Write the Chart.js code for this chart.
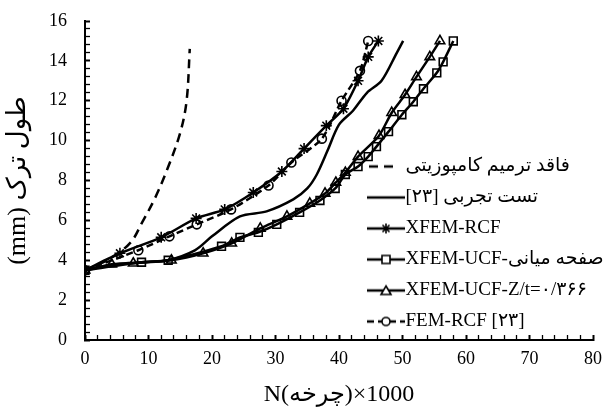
<!DOCTYPE html>
<html>
<head>
<meta charset="utf-8">
<script src="https://cdn.jsdelivr.net/npm/chart.js@4.4.1/dist/chart.umd.min.js"></script>
<style>
  html, body { margin: 0; padding: 0; background: #fff; }
  #wrap { width: 607px; height: 412px; position: relative; }
</style>
</head>
<body>
<div id="wrap"><canvas id="crackChart"></canvas></div>
<script>
// Crack length (mm) against cycles N x 1000
const noRepairN = [0, 4, 7.2, 9, 11, 13, 15, 16, 16.5];
const noRepairL = [3.5, 4.1, 4.9, 5.9, 7.1, 8.6, 10.4, 12.0, 14.6];

const testN = [0, 5, 9, 13, 17.3, 20, 24.4, 28.6, 32.8, 35, 36.5, 38.2, 40, 42.2, 44.4, 46.7, 49.1, 50.1];
const testL = [3.5, 3.8, 3.9, 4.0, 4.5, 5.2, 6.2, 6.45, 7.05, 7.6, 8.3, 9.5, 10.8, 11.5, 12.4, 13.0, 14.4, 15.0];

const xfemRcfN = [0, 5.5, 12, 17.5, 22, 26.5, 31, 34.5, 38, 40.7, 43, 44.6, 46.2];
const xfemRcfL = [3.5, 4.35, 5.15, 6.1, 6.55, 7.4, 8.45, 9.6, 10.75, 11.6, 13.0, 14.2, 15.0];

const ucfMidN = [0, 8.9, 13.1, 21.5, 24.4, 27.3, 30.2, 33.8, 37, 39.4, 41, 43, 44.6, 45.9, 47.8, 49.9, 51.7, 53.3, 55.4, 56.4, 58];
const ucfMidL = [3.5, 3.9, 4.0, 4.7, 5.15, 5.4, 5.8, 6.4, 7.0, 7.6, 8.3, 8.7, 9.2, 9.7, 10.45, 11.3, 11.95, 12.6, 13.4, 13.95, 15.0];

const ucfZtN = [0, 4.2, 7.6, 13.6, 18.6, 23.1, 27.6, 31.8, 35.4, 37.8, 39.5, 41, 43, 46.3, 48.3, 50.4, 52.2, 54.3, 55.9];
const ucfZtL = [3.5, 3.8, 3.85, 4.0, 4.35, 4.85, 5.6, 6.2, 6.85, 7.35, 7.9, 8.4, 9.2, 10.25, 11.4, 12.3, 13.2, 14.2, 15.0];

const femRcfN = [0, 8.4, 13.3, 17.6, 23, 28.9, 32.5, 37.3, 40.4, 43.3, 44.6];
const femRcfL = [3.5, 4.5, 5.2, 5.8, 6.55, 7.75, 8.9, 10.1, 12.0, 13.5, 15.0];

const seriesLabels = [
    'فاقد ترمیم کامپوزیتی',
    'تست تجربی [۲۳]\u200F',
    'XFEM-RCF',
    'XFEM-UCF-صفحه میانی',
    'XFEM-UCF-Z/t=۰/۳۶۶',
    'FEM-RCF [۲۳]'
];

const xTitle = 'N(چرخه)\u200E×1000';
const yTitle = '(mm) طول ترک';

const FONT = "'Liberation Serif', 'DejaVu Sans', serif";

function pts(xs, ys) {
    return xs.map((x, i) => ({ x: x, y: ys[i] }));
}

// small legend samples: line with marker in the middle
function makeIcon(marker, dash, dashLen) {
    const c = document.createElement('canvas');
    c.width = 38;
    c.height = 14;
    const g = c.getContext('2d');
    g.strokeStyle = '#000';
    g.lineWidth = 2.5;
    g.setLineDash(dash || []);
    g.beginPath();
    g.moveTo(dashLen ? 2 : 0, 7);
    g.lineTo(dashLen ? 2 + dashLen : 38, 7);
    g.stroke();
    g.setLineDash([]);
    g.lineWidth = 1.6;
    g.beginPath();
    if (marker === 'star') {
        g.moveTo(14, 7); g.lineTo(24, 7);
        g.moveTo(19, 2); g.lineTo(19, 12);
        g.moveTo(15.5, 3.5); g.lineTo(22.5, 10.5);
        g.moveTo(22.5, 3.5); g.lineTo(15.5, 10.5);
    } else if (marker === 'rect') {
        g.fillStyle = '#fff';
        g.fillRect(15, 3, 8, 8);
        g.rect(15, 3, 8, 8);
    } else if (marker === 'triangle') {
        g.fillStyle = '#fff';
        g.moveTo(19, 2.5); g.lineTo(24, 11); g.lineTo(14, 11); g.closePath();
        g.fill();
    } else if (marker === 'circle') {
        g.fillStyle = '#fff';
        g.arc(19, 7, 4, 0, Math.PI * 2);
        g.fill();
    }
    g.stroke();
    return c;
}

const legendIcons = [
    makeIcon(null, [9, 6], 27),
    makeIcon(null, null),
    makeIcon('star', null),
    makeIcon('rect', null),
    makeIcon('triangle', null),
    makeIcon('circle', [7, 4])
];

const LEGEND_LEFT = 364;
const LEGEND_TOP = 145;

// put the legend inside the plot, right of centre
const legendPlacer = {
    id: 'legendPlacer',
    afterLayout(chart) {
        const lg = chart.legend;
        if (!lg) return;
        lg.left = LEGEND_LEFT;
        lg.top = LEGEND_TOP;
        lg.right = chart.width;
        lg.bottom = chart.height;
        lg.width = lg.right - lg.left;
        lg.height = lg.bottom - lg.top;
    }
};

function baseSet(label, xs, ys, extra) {
    return Object.assign({
        label: label,
        data: pts(xs, ys),
        borderColor: '#000',
        backgroundColor: 'transparent',
        borderWidth: 2.5,
        pointRadius: 0,
        pointBorderColor: '#000',
        pointBackgroundColor: 'transparent',
        pointBorderWidth: 1.6,
        tension: 0.25,
        fill: false
    }, extra || {});
}

const datasets = [
    baseSet(seriesLabels[0], noRepairN, noRepairL, { borderDash: [9, 6], tension: 0.35 }),
    baseSet(seriesLabels[1], testN, testL, { tension: 0.3 }),
    baseSet(seriesLabels[2], xfemRcfN, xfemRcfL, { pointStyle: 'star', pointRadius: 5.5 }),
    baseSet(seriesLabels[3], ucfMidN, ucfMidL, { pointStyle: 'rect', pointRadius: 5.5 }),
    baseSet(seriesLabels[4], ucfZtN, ucfZtL, { pointStyle: 'triangle', pointRadius: 5.5 }),
    baseSet(seriesLabels[5], femRcfN, femRcfL, { pointStyle: 'circle', pointRadius: 4.5, borderDash: [7, 4] })
];

function isMult(v, m) {
    return Math.abs(v / m - Math.round(v / m)) < 1e-6;
}

new Chart(document.getElementById('crackChart'), {
    type: 'line',
    data: { datasets: datasets },
    plugins: [legendPlacer],
    options: {
        responsive: true,
        maintainAspectRatio: false,
        animation: false,
        layout: { padding: { top: 21, right: 14, left: 0, bottom: 0 } },
        plugins: {
            tooltip: { enabled: false },
            legend: {
                position: 'chartArea',
                align: 'start',
                labels: {
                    usePointStyle: true,
                    pointStyleWidth: 20,
                    boxHeight: 14,
                    padding: 12,
                    color: '#000',
                    font: { family: FONT, size: 19 },
                    generateLabels(chart) {
                        const items = Chart.defaults.plugins.legend.labels.generateLabels(chart);
                        items.forEach((it, i) => {
                            it.pointStyle = legendIcons[i];
                            it.rotation = 0;
                        });
                        return items;
                    }
                }
            }
        },
        scales: {
            x: {
                type: 'linear',
                min: 0,
                max: 80,
                afterFit(scale) {
                    scale.height = 72;
                    scale.paddingLeft = 0;
                    scale.paddingRight = 0;
                },
                ticks: {
                    stepSize: 2,
                    autoSkip: false,
                    maxRotation: 0,
                    padding: 13,
                    color: '#000',
                    font: { family: FONT, size: 18 },
                    callback: (v) => isMult(v, 10) ? v : ''
                },
                grid: {
                    drawOnChartArea: false,
                    drawTicks: true,
                    tickLength: -5,
                    tickColor: '#000',
                    tickWidth: (ctx) => ctx.tick && isMult(ctx.tick.value, 10) ? 2 : 1.3
                },
                border: { color: '#000', width: 2 },
                title: {
                    display: true,
                    text: xTitle,
                    color: '#000',
                    font: { family: FONT, size: 24 },
                    padding: { top: 0, bottom: 3 }
                }
            },
            y: {
                type: 'linear',
                min: 0,
                max: 16,
                afterFit(scale) {
                    scale.width = 85;
                    scale.paddingTop = 0;
                    scale.paddingBottom = 0;
                },
                ticks: {
                    stepSize: 0.4,
                    autoSkip: false,
                    padding: 23,
                    color: '#000',
                    font: { family: FONT, size: 18 },
                    callback: (v) => isMult(v, 2) ? Math.round(v) : ''
                },
                grid: {
                    drawOnChartArea: false,
                    drawTicks: true,
                    tickLength: -5,
                    tickColor: '#000',
                    tickWidth: (ctx) => ctx.tick && isMult(ctx.tick.value, 2) ? 2 : 1.3
                },
                border: { color: '#000', width: 2 },
                title: {
                    display: true,
                    text: yTitle,
                    color: '#000',
                    font: { family: FONT, size: 26 },
                    padding: { top: 3, bottom: 0 }
                }
            }
        }
    }
});
</script>
</body>
</html>
